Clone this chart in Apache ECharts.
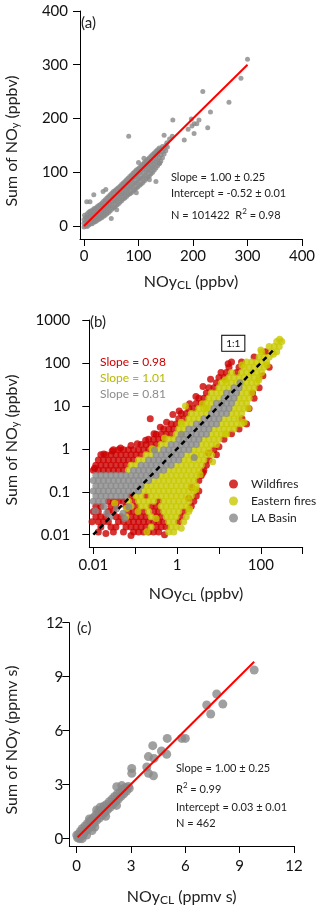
<!DOCTYPE html>
<html>
<head>
<meta charset="utf-8">
<script src="https://cdn.jsdelivr.net/npm/echarts@6/dist/echarts.min.js"></script>
<style>
  html, body { margin: 0; padding: 0; background: #fff; }
  #chart { width: 320px; height: 912px; }
</style>
</head>
<body>
<div id="chart"></div>
<script>
var FONT = 'Lato, "DejaVu Sans", sans-serif';

// ---- panel (a): sum of NOy vs NOy_CL, ppbv ----
var panelA = [
  [0,-2],[0,5],[0,12],[1,20],[3,0],[3,8],[3,16],[6,-1],[6,7],[6,15],[6,23],[9,2],[9,10],[9,18],[9,26],
  [12,4],[12,12],[12,20],[12,28],[15,4],[15,12],[15,20],[15,29],[18,7],[18,15],[18,23],[18,32],
  [21,8],[21,16],[21,24],[21,33],[24,10],[24,18],[24,27],[24,36],[27,12],[27,20],[27,29],[27,38],
  [30,14],[30,22],[30,31],[30,40],[33,16],[33,25],[33,34],[33,43],[36,18],[36,27],[36,36],[36,46],
  [39,20],[39,29],[39,39],[39,49],[42,23],[42,32],[42,42],[42,52],[45,25],[45,35],[45,45],[45,55],
  [48,28],[48,38],[48,48],[48,58],[51,31],[51,41],[51,51],[51,61],[54,34],[54,44],[54,54],[54,64],
  [57,36],[57,46],[57,56],[57,66],[60,39],[60,49],[60,59],[60,69],[63,41],[63,51],[63,61],[63,71],
  [66,44],[66,54],[66,64],[66,74],[69,47],[69,57],[69,67],[69,77],[72,50],[72,60],[72,70],[72,80],
  [75,52],[75,62],[75,72],[75,83],[78,55],[78,65],[78,75],[78,86],[81,58],[81,68],[81,78],[81,89],
  [84,60],[84,70],[84,81],[84,92],[87,62],[87,73],[87,84],[87,95],[90,65],[90,76],[90,87],[90,98],
  [93,68],[93,79],[93,90],[93,101],[96,70],[96,81],[96,92],[96,104],[99,73],[99,84],[99,95],[99,106],
  [102,76],[102,87],[102,98],[102,109],[105,78],[105,89],[105,101],[105,112],[108,81],[108,92],
  [108,104],[108,115],[111,84],[111,95],[111,107],[111,118],[114,88],[114,99],[114,110],[114,121],
  [117,91],[117,102],[117,113],[117,124],[120,93],[120,105],[120,116],[120,127],[123,97],[123,108],
  [123,119],[123,130],[126,100],[126,111],[126,122],[126,133],[129,104],[129,115],[129,126],[129,136],
  [132,108],[132,119],[132,130],[132,139],[135,112],[135,123],[135,134],[135,142],[138,116],[138,127],
  [138,138],[138,145],[141,121],[141,132],[141,143],[144,127],[144,138],[144,148],[147,134],[147,144],
  [150,140],[150,150],
  [300,310],[288,275],[266,230],[232,212],[227,183],[218,250],[211,197],[207,190],[202,190],[197,199],
  [198,186],[191,180],[202,172],[184,160],[163,197],[162,167],[147,169],[152,155],[157,162],[153,147],
  [139,117],[132,83],[82,167],[50,14],[18,58],[40,68],[11,45],[5,45],[35,64],[60,30],[96,62],[120,86],
  [100,118],[110,126]
];
var fitA = [[0, 0], [300, 300]];
var ticksA = [0, 100, 200, 300, 400];

// ---- panel (b): log10 values; each row = [log10 y, log10 x, log10 x, ...] ----
var wildRows = [
  [-1.94, -1.88, -1.52, -1.28, -1.04, -0.92, -0.80, -0.68, -0.56, -0.44],
  [-1.82, -1.82, -1.58, -1.46, -1.22, -1.10, -0.98, -0.86, -0.74, -0.50, -0.38, -0.26],
  [-1.70, -1.88, -1.76, -1.64, -1.40, -1.28, -1.16, -1.04, -0.92, -0.80, -0.68, -0.56, -0.44, -0.32, 0.04],
  [-1.58, -1.94, -1.82, -1.70, -1.46, -1.34, -1.10, -0.98, -0.86, -0.74, -0.50, -0.38, 0.10],
  [-1.46, -2.00, -1.88, -1.64, -1.52, -1.16, -1.04, -0.92, -0.80, -0.56, -0.44, 0.16],
  [-1.34, -1.94, -1.82, -1.58, -1.46, -1.22, -0.98, -0.62, -0.50, 0.34],
  [-1.22, -1.64, -1.52, -1.40, -1.28, -1.04, -0.44, 0.40],
  [-1.10, -1.10, -0.74, 0.46],
  [-0.98, 0.52],
  [-0.74, 0.52],
  [-0.62, 0.58],
  [-0.50, -2.00, -1.88, -1.76, -1.64, -1.52, -1.40, -1.28, 0.64],
  [-0.38, -1.94, -1.82, -1.70, -1.58, -1.46, -1.34, -1.22, 0.70],
  [-0.26, -1.88, -1.76, -1.64, -1.52, -1.40, -1.28, -1.16, -1.04, 0.76],
  [-0.14, -1.82, -1.70, -1.58, -1.46, -1.34, -1.22, -1.10, -0.98, -0.86, 0.94],
  [-0.02, -1.52, -1.40, -1.28, -1.16, -1.04, -0.92, -0.80, -0.68, 0.88],
  [0.10, -0.86, -0.74, -0.62, -0.50],
  [0.22, -0.68, -0.56, -0.44, -0.32, 1.12],
  [0.34, -0.50, -0.38, -0.26, -0.14],
  [0.46, -0.32, -0.20, -0.08, 1.48],
  [0.58, -0.14, -0.02, 1.66],
  [0.70, -0.64, 0.04, 0.16],
  [0.82, 0.10, 0.22],
  [0.94, 0.28, 0.40, 1.72],
  [1.06, 0.46, 0.58],
  [1.18, 0.52, 0.64, 1.84],
  [1.30, 0.70],
  [1.42, 0.76, 0.88, 1.96],
  [1.54, 0.94],
  [1.66, 1.00, 1.12],
  [1.78, 1.18, 1.42],
  [1.90, 1.24, 1.48, 2.20],
  [2.02, 1.30, 1.54],
  [2.14, 1.84],
  [2.26, 2.12]
];
// scattered Wildfires points along the cloud edges, [log10 x, log10 y]
var wildExtra = [
  [-1.97, -0.45], [-1.75, -0.12], [-1.55, -0.05], [-1.35, 0.02], [-1.10, 0.08], [-0.95, 0.12],
  [-0.75, 0.20], [-0.55, 0.35], [-0.40, 0.50], [-0.25, 0.62], [-0.10, 0.80], [0.05, 0.88],
  [0.30, 1.05], [0.45, 1.22], [0.62, 1.45], [0.80, 1.62], [1.05, 1.78], [1.22, 1.98],
  [0.62, -0.55], [0.75, -0.10], [1.00, 0.05], [1.30, 0.35], [1.55, 0.70], [1.80, 1.30],
  [2.05, 1.70], [0.28, -1.15], [0.35, -0.90], [-2.03, -1.70], [-1.70, -1.97], [-1.10, -2.02],
  [-0.30, -2.00]
];
var eastRows = [
  [-1.94, -0.20, -0.08],
  [-1.82, -0.62, -0.14, -0.02],
  [-1.70, -0.20, -0.08, 0.16],
  [-1.58, -1.22, -0.62, -0.26, -0.14, -0.02, 0.22],
  [-1.46, -0.68, -0.32, -0.20, -0.08, 0.04, 0.28],
  [-1.34, -1.10, -0.86, -0.74, -0.38, -0.26, -0.14, -0.02, 0.10, 0.22],
  [-1.22, -1.16, -0.92, -0.80, -0.68, -0.56, -0.32, -0.20, -0.08, 0.04, 0.16, 0.28],
  [-1.10, -0.98, -0.86, -0.62, -0.50, -0.38, -0.26, -0.14, -0.02, 0.10, 0.22, 0.34],
  [-0.98, -0.80, -0.68, -0.56, -0.44, -0.32, -0.20, -0.08, 0.04, 0.16, 0.28, 0.40],
  [-0.86, -0.74, -0.62, -0.50, -0.38, -0.26, -0.14, -0.02, 0.10, 0.22, 0.34, 0.46],
  [-0.74, -0.56, -0.44, -0.32, -0.20, -0.08, 0.04, 0.16, 0.28, 0.40],
  [-0.62, -0.38, -0.26, -0.14, -0.02, 0.10, 0.22, 0.34, 0.46],
  [-0.50, -1.16, -0.20, -0.08, 0.04, 0.16, 0.28, 0.40, 0.52],
  [-0.38, -1.10, -0.98, -0.02, 0.10, 0.22, 0.34, 0.46, 0.58],
  [-0.26, -0.92, -0.80, 0.16, 0.28, 0.40, 0.52, 0.64],
  [-0.14, -0.74, -0.62, 0.22, 0.34, 0.46, 0.58, 0.70, 0.82],
  [-0.02, -0.56, -0.44, 0.40, 0.52, 0.64, 0.76],
  [0.10, -0.38, -0.26, 0.58, 0.70, 0.82, 0.94],
  [0.22, -0.20, -0.08, 0.64, 0.76, 0.88, 1.00],
  [0.34, -0.02, 0.10, 0.82, 0.94, 1.06, 1.18],
  [0.46, 0.04, 0.16, 0.88, 1.00, 1.12, 1.24, 1.36],
  [0.58, 0.10, 0.22, 0.34, 1.06, 1.18, 1.30, 1.42, 1.54],
  [0.70, 0.28, 0.40, 0.52, 1.12, 1.24, 1.36, 1.48],
  [0.82, 0.34, 0.46, 0.58, 0.70, 1.30, 1.42, 1.54],
  [0.94, 0.52, 0.64, 0.76, 1.36, 1.48, 1.60],
  [1.06, 0.70, 0.82, 1.42, 1.54, 1.66],
  [1.18, 0.76, 0.88, 1.00, 1.48, 1.60, 1.72],
  [1.30, 0.82, 0.94, 1.06, 1.54, 1.66, 1.78],
  [1.42, 1.00, 1.12, 1.24, 1.60, 1.72, 1.84],
  [1.54, 1.06, 1.18, 1.30, 1.42, 1.54, 1.66, 1.78, 1.90],
  [1.66, 1.24, 1.36, 1.48, 1.60, 1.72, 1.84, 1.96],
  [1.78, 1.30, 1.54, 1.66, 1.78, 1.90, 2.02],
  [1.90, 1.60, 1.72, 1.84, 1.96, 2.08],
  [2.02, 1.66, 1.78, 1.90, 2.02, 2.14],
  [2.14, 1.96, 2.08, 2.20],
  [2.26, 2.02, 2.26, 2.38],
  [2.38, 2.20, 2.32, 2.44],
  [2.50, 2.38, 2.50]
];
// scattered Eastern-fires points, [log10 x, log10 y]
var eastExtra = [
  [-1.49, -1.27], [-1.21, -1.39], [-0.72, -1.93], [-0.50, -1.62], [-0.93, -1.46], [0.70, 0.95],
  [0.20, 1.00], [1.15, 0.35], [0.85, -0.30], [1.60, 0.62], [1.70, 0.95], [1.95, 1.60],
  [2.15, 1.95], [2.30, 2.20], [2.45, 2.55], [0.55, -0.60], [0.45, -0.95], [0.30, -1.40],
  [0.10, -1.85], [-0.60, 0.00], [-0.30, 0.25], [0.10, 0.62], [0.60, 1.05], [1.15, 1.60],
  [1.55, 1.95], [2.00, 2.30]
];
var laRows = [
  [-1.22, -2.00, -1.88, -1.76],
  [-1.10, -1.94, -1.82, -1.70, -1.58, -1.46, -1.34, -1.22],
  [-0.98, -2.00, -1.88, -1.76, -1.64, -1.52, -1.40, -1.28, -1.16, -1.04, -0.92],
  [-0.86, -1.94, -1.82, -1.70, -1.58, -1.46, -1.34, -1.22, -1.10, -0.98, -0.86],
  [-0.74, -2.00, -1.88, -1.76, -1.64, -1.52, -1.40, -1.28, -1.16, -1.04, -0.92, -0.80, -0.68],
  [-0.62, -1.94, -1.82, -1.70, -1.58, -1.46, -1.34, -1.22, -1.10, -0.98, -0.86, -0.74, -0.62, -0.50],
  [-0.50, -1.04, -0.92, -0.80, -0.68, -0.56, -0.44, -0.32],
  [-0.38, -0.86, -0.74, -0.62, -0.50, -0.38, -0.26, -0.14],
  [-0.26, -0.68, -0.56, -0.44, -0.32, -0.20, -0.08, 0.04],
  [-0.14, -0.50, -0.38, -0.26, -0.14, -0.02, 0.10],
  [-0.02, -0.32, -0.20, -0.08, 0.04, 0.16, 0.28],
  [0.10, -0.14, -0.02, 0.10, 0.22, 0.34, 0.46],
  [0.22, 0.04, 0.16, 0.28, 0.40, 0.52],
  [0.34, 0.10, 0.22, 0.34, 0.46, 0.58, 0.70],
  [0.46, 0.28, 0.40, 0.52, 0.64, 0.76],
  [0.58, 0.46, 0.58, 0.70, 0.82, 0.94],
  [0.70, 0.64, 0.76, 0.88, 1.00],
  [0.82, 0.82, 0.94, 1.06, 1.18],
  [0.94, 0.88, 1.00, 1.12, 1.24],
  [1.06, 0.94, 1.06, 1.18, 1.30],
  [1.18, 1.12, 1.24, 1.36],
  [1.30, 1.18, 1.30, 1.42],
  [1.42, 1.36, 1.48],
  [1.54, 1.50]
];
// scattered LA Basin points, [log10 x, log10 y]
var laExtra = [
  [-1.95, -1.45], [-1.75, -1.35], [-1.68, -1.50], [-1.60, -1.58], [-1.45, -1.40],
  [-1.29, -1.50], [-1.25, -1.62], [-1.15, -1.35], [0.41, -0.20], [-0.54, -0.03]
];
var oneToOne = [[0.01, 0.01], [200, 200]];
var ticksB = [0.01, 0.1, 1, 10, 100, 1000];
var labelsBx = [0.01, 1, 100];

// ---- panel (c): integrated, ppmv s ----
var panelC = [
  [0.05,0.05],[0.1,0.25],[0.15,0.0],[0.2,0.4],[0.25,0.15],[0.3,0.55],[0.4,0.3],[0.45,0.7],[0.5,0.45],
  [0.55,0.2],[0.6,0.85],[0.65,0.55],[0.75,1.0],[0.8,0.7],[0.9,1.15],[0.95,0.85],[1.05,1.3],[1.1,1.0],
  [1.2,1.5],[1.25,1.15],[1.35,1.6],[1.4,1.3],[1.5,1.8],[1.55,1.45],[1.65,1.9],[1.7,1.6],[1.8,2.05],
  [1.85,1.75],[1.95,2.2],[2.0,1.9],[2.1,2.35],[2.15,2.05],[2.25,2.5],[2.3,2.2],[2.4,2.6],[2.45,2.35],
  [2.55,2.75],[2.6,2.5],[2.7,2.85],[2.75,2.65],[2.85,2.9],[2.9,2.8],[0.7,1.1],[1.1,1.6],[1.3,1.75],
  [0.3,0.0],[1.0,0.65],[2.21,2.89],[2.49,2.95],[0.0,0.2],[0.35,0.2],[0.85,0.45],[1.6,1.25],[2.2,1.85],
  [3.04,3.9],[3.04,3.63],[3.87,3.98],[3.96,3.63],[4.24,3.5],[3.96,4.56],[4.27,4.46],[4.2,5.17],
  [4.68,4.87],[4.97,4.69],[5.0,5.57],[5.8,5.57],[6.0,5.57],[7.18,7.43],[7.73,8.04],[8.07,7.48],
  [7.4,6.93],[9.8,9.37]
];
var fitC = [[0.05, 0.08], [9.8, 9.83]];
var ticksC = [0, 3, 6, 9, 12];

function rowsToPoints(rows) {
  var pts = [];
  rows.forEach(function (r) {
    for (var i = 1; i < r.length; i++) pts.push([Math.pow(10, r[i]), Math.pow(10, r[0])]);
  });
  return pts;
}
function logPairs(list) {
  return list.map(function (p) { return [Math.pow(10, p[0]), Math.pow(10, p[1])]; });
}

function axis(grid, type, min, max, ticks, labels, margin) {
  return {
    gridIndex: grid, type: type, min: min, max: max,
    axisLine: { show: true, onZero: false, lineStyle: { color: '#000', width: 1 } },
    axisTick: { show: true, inside: false, length: 7, customValues: ticks, lineStyle: { color: '#000', width: 1 } },
    axisLabel: {
      customValues: labels, margin: margin, color: '#111', fontSize: 15, fontFamily: FONT,
      formatter: function (v) { return String(parseFloat(Number(v).toPrecision(6))); }
    },
    splitLine: { show: false }
  };
}
function xName(ax, text, gap) {
  ax.name = text;
  ax.nameLocation = 'middle';
  ax.nameGap = gap;
  ax.nameTextStyle = {
    fontSize: 16, fontFamily: FONT, color: '#222',
    rich: { sub: { fontSize: 12, fontFamily: FONT, color: '#222', padding: [7, 0, 0, 0] } }
  };
  return ax;
}
function label(x, y, text, size, color, rot) {
  return {
    type: 'text', x: x, y: y, rotation: rot || 0, silent: true,
    style: {
      text: text, fontSize: size, fontFamily: FONT, fill: color || '#222',
      align: rot ? 'center' : 'left', verticalAlign: 'middle',
      textAlign: rot ? 'center' : 'left', textVerticalAlign: 'middle',
      rich: {
        sub: { fontSize: size - 5, fontFamily: FONT, fill: color || '#222', padding: [7, 0, 0, 0] },
        sup: { fontSize: size - 3, fontFamily: FONT, fill: color || '#222', lineHeight: 8, padding: [0, 0, 8, 0] }
      }
    }
  };
}

var chart = echarts.init(document.getElementById('chart'));
var option = {
  animation: false,
  backgroundColor: '#fff',
  grid: [
    { left: 80, top: 11, width: 222, height: 228 },
    { left: 89.3, top: 320, width: 213.4, height: 227 },
    { left: 69.3, top: 622.7, width: 224.7, height: 223.3 }
  ],
  xAxis: [
    xName(axis(0, 'value', -7.34, 400, ticksA, ticksA, 10), 'NOy{sub|CL} (ppbv)', 33),
    xName(axis(1, 'log', 0.00802, 1000, ticksB, labelsBx, 11), 'NOy{sub|CL} (ppbv)', 37),
    xName(axis(2, 'value', -0.409, 12, ticksC, ticksC, 13), 'NOy{sub|CL} (ppmv s)', 41)
  ],
  yAxis: [
    axis(0, 'value', -24.2, 400, ticksA, ticksA, 12),
    axis(1, 'log', 0.00517, 1000, ticksB, ticksB, 19),
    axis(2, 'value', -0.406, 12, ticksC, ticksC, 6)
  ],
  legend: {
    data: ['Wildfires', 'Eastern fires', 'LA Basin'],
    orient: 'vertical', left: 229, top: 477, padding: 0,
    itemWidth: 9, itemHeight: 9, itemGap: 3, icon: 'circle',
    textStyle: { fontSize: 12, fontFamily: FONT, color: '#222', lineHeight: 14, padding: [0, 0, 0, 8] }
  },
  graphic: [
    label(81, 23, '(a)', 15),
    label(90, 322, '(b)', 15),
    label(77, 628, '(c)', 15),
    label(12, 141, 'Sum of NO{sub|y} (ppbv)', 16, '#222', Math.PI / 2),
    label(12, 440, 'Sum of NO{sub|y} (ppbv)', 16, '#222', Math.PI / 2),
    label(12, 740, 'Sum of NOy (ppmv s)', 16, '#222', Math.PI / 2),
    label(171, 177, 'Slope = 1.00 ± 0.25', 11),
    label(171, 193, 'Intercept = -0.52 ± 0.01', 11),
    label(171, 215, 'N = 101422  R{sup|2} = 0.98', 11),
    label(100, 362, 'Slope = 0.98', 12, '#cc0000'),
    label(100, 378, 'Slope = 1.01', 12, '#b8b800'),
    label(100, 394, 'Slope = 0.81', 12, '#8c8c8c'),
    {
      type: 'text', x: 233.3, y: 343.3, silent: true,
      style: {
        text: '1:1', fontSize: 10, fontFamily: FONT, fill: '#111',
        align: 'center', verticalAlign: 'middle', textAlign: 'center', textVerticalAlign: 'middle',
        borderColor: '#000', borderWidth: 1, padding: [3, 4, 2, 4], backgroundColor: '#fff'
      }
    },
    label(176, 768, 'Slope = 1.00 ± 0.25', 11),
    label(176, 789, 'R{sup|2} = 0.99', 11),
    label(176, 807, 'Intercept = 0.03 ± 0.01', 11),
    label(176, 823, 'N = 462', 11)
  ],
  series: [
    { type: 'scatter', xAxisIndex: 0, yAxisIndex: 0, data: panelA, symbolSize: 5,
      itemStyle: { color: '#888888' } },
    { type: 'line', xAxisIndex: 0, yAxisIndex: 0, data: fitA, symbol: 'none',
      lineStyle: { color: '#ff0000', width: 2 } },

    { name: 'Wildfires', type: 'scatter', xAxisIndex: 1, yAxisIndex: 1,
      data: rowsToPoints(wildRows).concat(logPairs(wildExtra)),
      symbolSize: 7, itemStyle: { color: '#cc0000' } },
    { name: 'Eastern fires', type: 'scatter', xAxisIndex: 1, yAxisIndex: 1,
      data: rowsToPoints(eastRows).concat(logPairs(eastExtra)),
      symbolSize: 7, itemStyle: { color: '#c8c800' } },
    { name: 'LA Basin', type: 'scatter', xAxisIndex: 1, yAxisIndex: 1,
      data: rowsToPoints(laRows).concat(logPairs(laExtra)),
      symbolSize: 7, itemStyle: { color: '#888888' } },
    { type: 'line', xAxisIndex: 1, yAxisIndex: 1, data: oneToOne, symbol: 'none',
      lineStyle: { color: '#000', width: 2.5, type: [5, 4] } },

    { type: 'scatter', xAxisIndex: 2, yAxisIndex: 2, data: panelC, symbolSize: 9,
      itemStyle: { color: '#888888' } },
    { type: 'line', xAxisIndex: 2, yAxisIndex: 2, data: fitC, symbol: 'none',
      lineStyle: { color: '#ff0000', width: 2 } }
  ]
};
chart.setOption(option);
window.addEventListener('resize', function () { chart.resize(); });
</script>
</body>
</html>
